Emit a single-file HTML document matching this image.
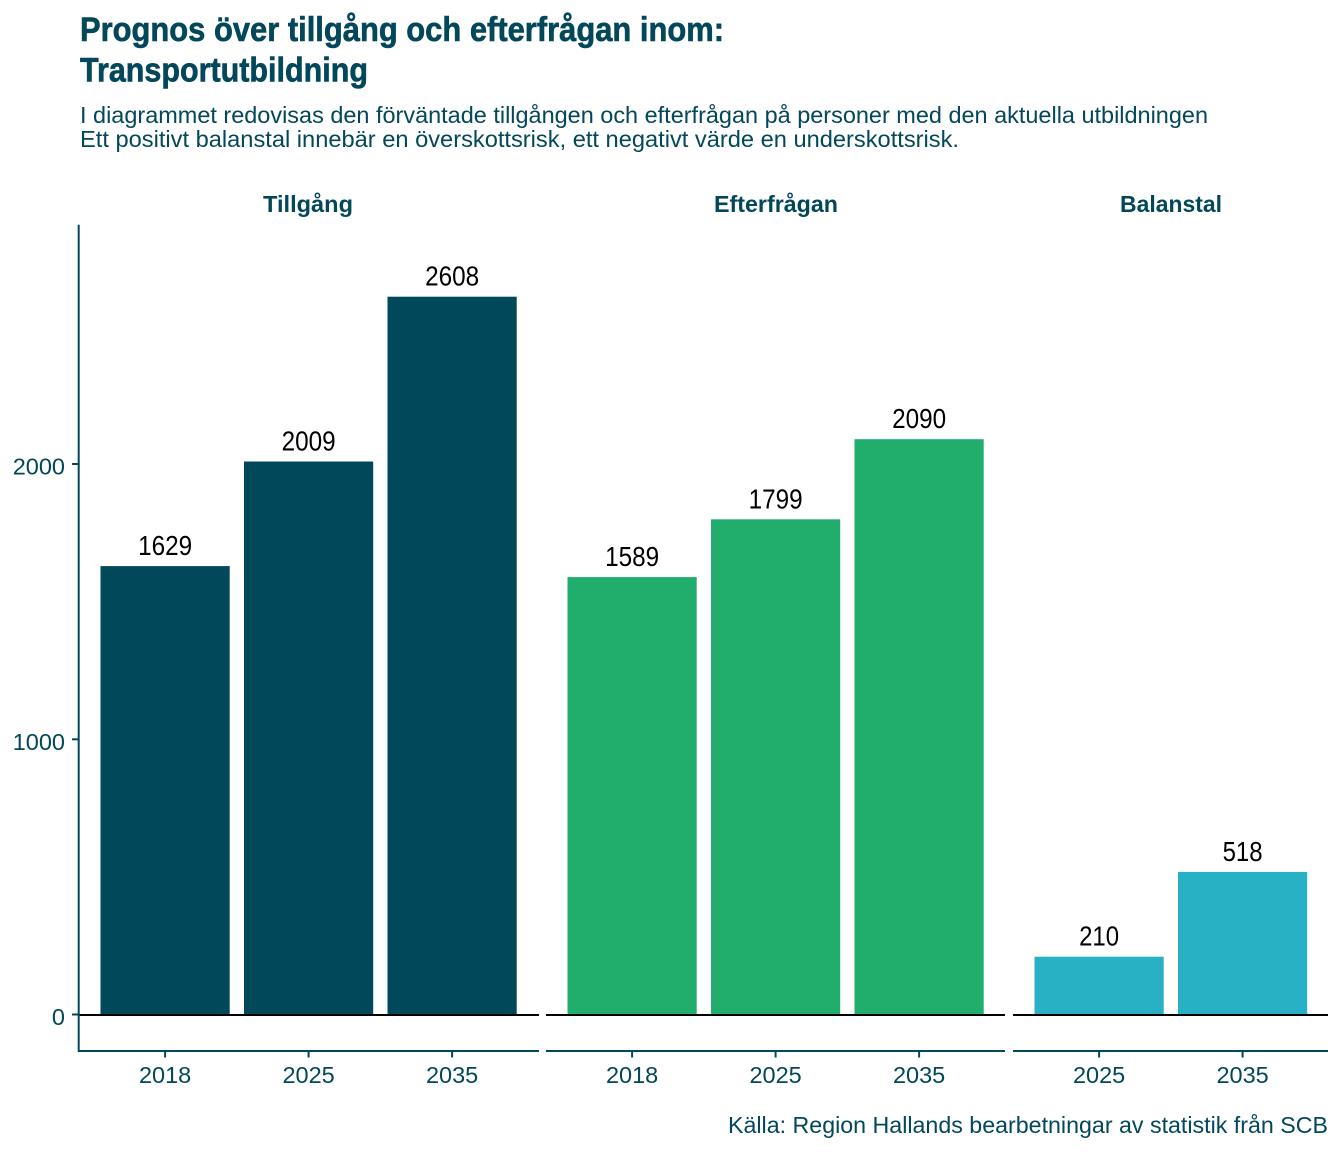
<!DOCTYPE html>
<html>
<head>
<meta charset="utf-8">
<style>
html,body{margin:0;padding:0;background:#fff;}
svg{display:block;}
.t{font-family:"Liberation Sans Narrow","Liberation Sans",sans-serif;font-weight:bold;fill:#02475a;}
.s{font-family:"Liberation Sans",sans-serif;fill:#02475a;}
.f{font-family:"Liberation Sans",sans-serif;font-weight:bold;fill:#02475a;}
.v{font-family:"Liberation Sans Narrow","Liberation Sans",sans-serif;fill:#000;}
.x{font-family:"Liberation Sans",sans-serif;fill:#02475a;}
</style>
</head>
<body>
<svg width="1344" height="1152" viewBox="0 0 1344 1152" xmlns="http://www.w3.org/2000/svg">
<rect width="1344" height="1152" fill="#fff"/>

<!-- Title -->
<text class="t" x="80" y="41" font-size="34" textLength="644" lengthAdjust="spacingAndGlyphs" stroke="#02475a" stroke-width="0.6">Prognos över tillgång och efterfrågan inom:</text>
<text class="t" x="80" y="81.5" font-size="34" textLength="288" lengthAdjust="spacingAndGlyphs" stroke="#02475a" stroke-width="0.6">Transportutbildning</text>

<!-- Subtitle -->
<text class="s" x="80" y="123" font-size="23" textLength="1128" lengthAdjust="spacingAndGlyphs">I diagrammet redovisas den förväntade tillgången och efterfrågan på personer med den aktuella utbildningen</text>
<text class="s" x="80" y="147" font-size="23" textLength="879" lengthAdjust="spacingAndGlyphs">Ett positivt balanstal innebär en överskottsrisk, ett negativt värde en underskottsrisk.</text>

<!-- Facet labels -->
<text class="f" x="263" y="212" font-size="23.5" textLength="90" lengthAdjust="spacingAndGlyphs">Tillgång</text>
<text class="f" x="714" y="212" font-size="23.5" textLength="124" lengthAdjust="spacingAndGlyphs">Efterfrågan</text>
<text class="f" x="1120" y="212" font-size="23.5" textLength="102" lengthAdjust="spacingAndGlyphs">Balanstal</text>

<!-- Bars panel 1 -->
<rect x="100.5" y="566.1" width="129.2" height="448.4" fill="#02485b"/>
<rect x="244" y="461.5" width="129.2" height="553" fill="#02485b"/>
<rect x="387.5" y="296.7" width="129.2" height="717.8" fill="#02485b"/>
<!-- Bars panel 2 -->
<rect x="567.5" y="577.1" width="129.2" height="437.4" fill="#21ae6c"/>
<rect x="711" y="519.3" width="129.2" height="495.2" fill="#21ae6c"/>
<rect x="854.5" y="439.2" width="129.2" height="575.3" fill="#21ae6c"/>
<!-- Bars panel 3 -->
<rect x="1034.5" y="956.7" width="129.2" height="57.8" fill="#28b1c5"/>
<rect x="1178" y="871.9" width="129.2" height="142.6" fill="#28b1c5"/>

<!-- Value labels -->
<g class="v" font-size="28" text-anchor="middle">
<text x="165.1" y="555.1" textLength="54" lengthAdjust="spacingAndGlyphs">1629</text>
<text x="308.6" y="450.5" textLength="54" lengthAdjust="spacingAndGlyphs">2009</text>
<text x="452.1" y="285.7" textLength="54" lengthAdjust="spacingAndGlyphs">2608</text>
<text x="632.1" y="566.1" textLength="54" lengthAdjust="spacingAndGlyphs">1589</text>
<text x="775.6" y="508.3" textLength="54" lengthAdjust="spacingAndGlyphs">1799</text>
<text x="919.1" y="428.2" textLength="54" lengthAdjust="spacingAndGlyphs">2090</text>
<text x="1099.1" y="945.7" textLength="40" lengthAdjust="spacingAndGlyphs">210</text>
<text x="1242.6" y="860.9" textLength="40" lengthAdjust="spacingAndGlyphs">518</text>
</g>

<!-- Zero lines -->
<g stroke="#000" stroke-width="2">
<line x1="79" y1="1015" x2="539" y2="1015"/>
<line x1="546" y1="1015" x2="1005" y2="1015"/>
<line x1="1013" y1="1015" x2="1328" y2="1015"/>
</g>

<!-- Axes -->
<g stroke="#02485b" stroke-width="2">
<line x1="78.7" y1="224.7" x2="78.7" y2="1052"/>
<line x1="78" y1="1051" x2="539" y2="1051"/>
<line x1="546" y1="1051" x2="1005" y2="1051"/>
<line x1="1013" y1="1051" x2="1328" y2="1051"/>
<line x1="72" y1="464" x2="79" y2="464"/>
<line x1="72" y1="739.3" x2="79" y2="739.3"/>
<line x1="72" y1="1014.5" x2="79" y2="1014.5"/>
<line x1="165.1" y1="1051" x2="165.1" y2="1057.5"/>
<line x1="308.6" y1="1051" x2="308.6" y2="1057.5"/>
<line x1="452.1" y1="1051" x2="452.1" y2="1057.5"/>
<line x1="632.1" y1="1051" x2="632.1" y2="1057.5"/>
<line x1="775.6" y1="1051" x2="775.6" y2="1057.5"/>
<line x1="919.1" y1="1051" x2="919.1" y2="1057.5"/>
<line x1="1099.1" y1="1051" x2="1099.1" y2="1057.5"/>
<line x1="1242.6" y1="1051" x2="1242.6" y2="1057.5"/>
</g>

<!-- Y tick labels -->
<g class="x" font-size="23.5" text-anchor="end">
<text x="65" y="474.5">2000</text>
<text x="65" y="749.8">1000</text>
<text x="65" y="1025">0</text>
</g>

<!-- X tick labels -->
<g class="x" font-size="23.5" text-anchor="middle">
<text x="165.1" y="1083">2018</text>
<text x="308.6" y="1083">2025</text>
<text x="452.1" y="1083">2035</text>
<text x="632.1" y="1083">2018</text>
<text x="775.6" y="1083">2025</text>
<text x="919.1" y="1083">2035</text>
<text x="1099.1" y="1083">2025</text>
<text x="1242.6" y="1083">2035</text>
</g>

<!-- Caption -->
<text class="x" x="1328" y="1133" font-size="23" text-anchor="end" textLength="600" lengthAdjust="spacingAndGlyphs">Källa: Region Hallands bearbetningar av statistik från SCB</text>
</svg>
</body>
</html>
